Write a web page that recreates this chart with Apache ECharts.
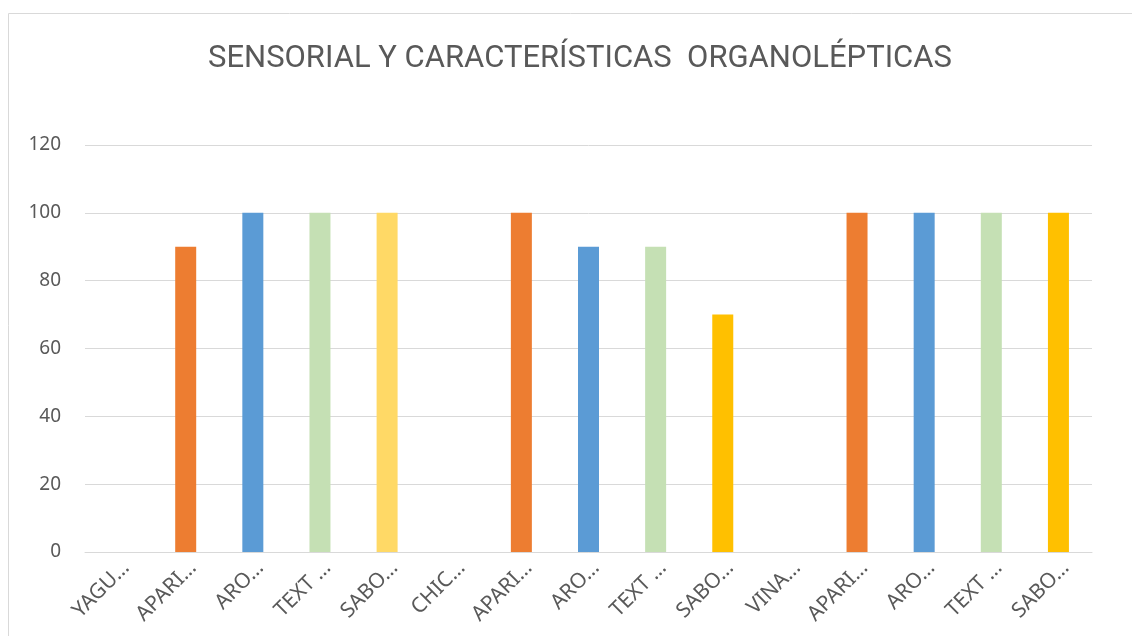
<!DOCTYPE html>
<html><head><meta charset="utf-8">
<script src="https://cdn.jsdelivr.net/npm/echarts@6/dist/echarts.min.js"></script>
<style>html,body{margin:0;padding:0;background:#fff}#c{width:1132px;height:636px}</style>
</head><body><div id="c"></div>
<script>
const title = 'SENSORIAL Y CARACTERÍSTICAS  ORGANOLÉPTICAS';
const categories = ['YAGU…','APARI…','ARO…','TEXT …','SABO…','CHIC…','APARI…','ARO…','TEXT …','SABO…','VINA…','APARI…','ARO…','TEXT …','SABO…'];
const values = [null,90,100,100,100,null,100,90,90,70,null,100,100,100,100];
const barColors = ['#ED7D31','#ED7D31','#5B9BD5','#C5E0B4','#FFD966','#ED7D31','#ED7D31','#5B9BD5','#C5E0B4','#FFC000','#ED7D31','#ED7D31','#5B9BD5','#C5E0B4','#FFC000'];
const yTicks = {min:0, max:120, interval:20};
const chart = echarts.init(document.getElementById('c'));
chart.setOption({
  animation:false,
  graphic:[{type:'rect',shape:{x:8.5,y:13.5,width:1200,height:700},style:{fill:'none',stroke:'#D9D9D9',lineWidth:1}}],
  title:{text:title,left:203,top:39,textStyle:{fontFamily:'Roboto',fontSize:31,fontWeight:'normal',color:'#595959'}},
  grid:{left:85,right:40,top:145,bottom:84,containLabel:false},
  xAxis:{type:'category',data:categories,
    axisLine:{lineStyle:{color:'#D9D9D9',width:1}},axisTick:{show:false},
    axisLabel:{rotate:45,interval:0,fontFamily:'Noto Sans',fontSize:21,color:'#595959',margin:5,align:'right',verticalAlign:'top'}},
  yAxis:{type:'value',min:yTicks.min,max:yTicks.max,interval:yTicks.interval,
    axisLine:{show:false},axisTick:{show:false},
    splitLine:{lineStyle:{color:'#D9D9D9',width:1}},
    axisLabel:{fontFamily:'Noto Sans',fontSize:19,color:'#595959',margin:24}},
  series:[{type:'bar',barWidth:21,
    data:values.map((v,i)=>({value:v,itemStyle:{color:barColors[i]}}))}]
});
</script></body></html>
